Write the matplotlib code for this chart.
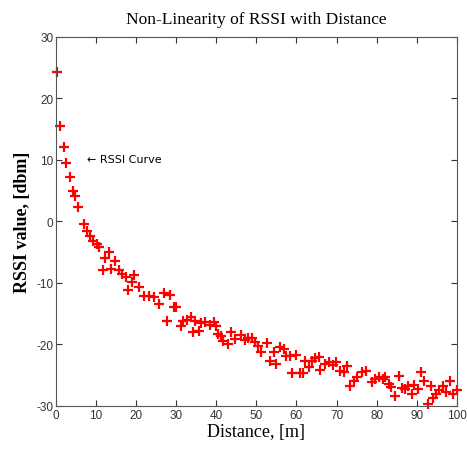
import matplotlib
matplotlib.use('Agg')
import matplotlib.pyplot as plt

plt.rcParams['axes.unicode_minus'] = False

distance = [0.3, 1.0, 2.0, 2.6, 3.4, 4.3, 4.8, 5.6, 6.9, 7.7, 8.4, 9.1, 10.1, 10.6,
            11.6, 12.3, 13.1, 13.8, 14.8, 15.6, 16.5, 17.5, 18.0, 19.0, 19.5, 20.7,
            22.0, 23.2, 24.4, 25.7, 27.0, 27.7, 28.4, 29.4, 29.9, 31.1, 31.6, 32.6,
            33.6, 34.3, 34.8, 35.6, 36.3, 37.3, 38.3, 39.3, 39.8, 40.5, 41.2, 41.7,
            43.0, 43.7, 44.7, 46.2, 47.2, 48.0, 49.0, 49.6, 50.4, 51.1, 52.6, 53.3,
            54.3, 55.0, 56.0, 56.8, 57.3, 58.3, 58.8, 59.8, 61.0, 61.6, 62.2, 63.2,
            64.0, 64.7, 65.7, 65.9, 67.2, 68.1, 69.1, 69.9, 70.9, 71.9, 72.6, 73.3,
            74.3, 75.1, 76.3, 77.3, 78.8, 79.5, 80.5, 81.5, 82.2, 83.2, 83.7, 84.7,
            85.7, 86.4, 87.2, 87.9, 88.9, 89.4, 90.4, 91.1, 91.9, 92.8, 93.6, 94.1,
            94.8, 95.6, 96.5, 97.3, 98.3, 99.0, 100.0]
rssi = [24.3, 15.5, 12.1, 9.5, 7.3, 4.9, 4.2, 2.4, -0.4, -1.5, -2.4, -3.2, -3.7, -4.2,
        -7.9, -6.0, -5.0, -7.7, -6.4, -7.9, -8.5, -9.0, -11.1, -9.8, -8.7, -10.7,
        -12.1, -12.1, -12.3, -13.4, -11.6, -16.2, -11.9, -14.0, -13.9, -17.0, -16.2, -16.0,
        -15.5, -18.0, -16.2, -17.8, -16.5, -16.3, -16.8, -16.3, -17.0, -18.3, -18.6, -19.4,
        -20.0, -18.0, -19.1, -18.5, -19.3, -19.0, -19.0, -19.6, -20.2, -21.2, -19.8, -22.7,
        -21.2, -23.2, -20.4, -20.7, -21.9, -21.9, -24.6, -21.7, -24.6, -24.6, -22.7, -23.7,
        -22.7, -22.2, -22.0, -24.1, -23.2, -22.8, -23.3, -22.8, -24.3, -24.5, -23.5, -26.7,
        -25.9, -25.3, -24.5, -24.3, -26.1, -25.6, -25.3, -25.6, -25.3, -26.4, -26.9, -28.4,
        -25.1, -27.1, -27.2, -26.7, -28.0, -26.6, -27.2, -24.5, -25.9, -29.7, -26.7, -28.7,
        -28.0, -27.4, -26.7, -27.7, -25.9, -28.0, -27.4]

x_ticks = [0, 10, 20, 30, 40, 50, 60, 70, 80, 90, 100]
y_ticks = [-30, -20, -10, 0, 10, 20, 30]

fig = plt.figure(figsize=(4.67, 4.52), dpi=100)
ax = fig.add_axes([0.12, 0.10, 0.858, 0.816])

ax.plot(distance, rssi, '+', color='red', markersize=7, markeredgewidth=1.6,
        clip_on=False)

ax.set_xlim(0, 100)
ax.set_ylim(-30, 30)
ax.set_xticks(x_ticks)
ax.set_yticks(y_ticks)
ax.tick_params(direction='in', top=True, right=True, length=4, width=0.8,
               labelsize=8.5, colors='#333333', pad=2)
for lbl in ax.get_xticklabels() + ax.get_yticklabels():
    lbl.set_family('Liberation Sans')
for s in ax.spines.values():
    s.set_color('#555555')
    s.set_linewidth(0.8)

ax.text(7.7, 10.2, '\u2190 RSSI Curve', fontsize=8, family='DejaVu Sans',
        va='center', ha='left')

ax.set_title('Non-Linearity of RSSI with Distance', family='Liberation Serif',
             fontsize=12.5, pad=10)
ax.set_xlabel('Distance, [m]', family='Liberation Serif', fontsize=13, labelpad=2)
ax.set_ylabel('RSSI value, [dbm]', family='Liberation Serif', fontsize=13,
              fontweight='bold', labelpad=4)

fig.savefig('out.png', dpi=100)
